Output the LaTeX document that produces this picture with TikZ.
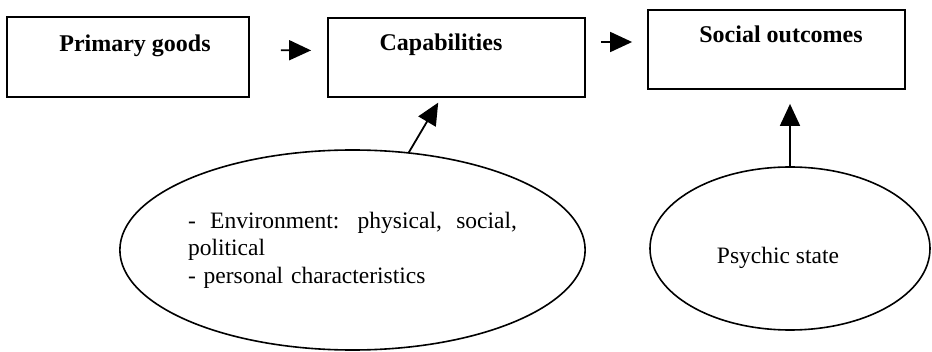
\documentclass[tikz,border=0pt]{standalone}
\usepackage{fontspec}
\setmainfont{Liberation Serif}
\usetikzlibrary{arrows.meta,shapes.geometric}
\setlength{\parindent}{0pt}

\begin{document}
\begin{tikzpicture}[x=1pt, y=1pt,
    stage/.style={draw, line width=1.8pt, rectangle, inner sep=0pt},
    stagetext/.style={anchor=base, font=\fontsize{24}{28}\selectfont\bfseries},
    factor/.style={draw, line width=1.6pt, ellipse, inner sep=0pt},
    factortext/.style={font=\fontsize{23.5}{27.5}\selectfont},
    link/.style={draw, line width=1.8pt, -{Triangle[length=22pt, width=20pt]}}]
  \useasboundingbox (0, 0) rectangle (932, 351);

  \node[stage, minimum width=242pt, minimum height=80pt]
    (goods) at (128, 294) {};
  \node[stagetext] (goodstext) at (135, 299) {Primary goods};

  \node[stage, minimum width=257pt, minimum height=79pt]
    (capab) at (456.5, 293.5) {};
  \node[stagetext] (capabtext) at (441, 300.3) {Capabilities};

  \node[stage, minimum width=257pt, minimum height=79pt]
    (outcomes) at (776.5, 301.5) {};
  \node[stagetext] (outcomestext) at (781, 308.3) {Social outcomes};

  \node[factor, factortext, minimum width=465pt, minimum height=200pt,
        text width=329pt, align=left]
    (env) at (352.5, 101)
    {- \hfill Environment: \hfill physical, \hfill social,\\political\\- personal characteristics};

  \node[factor, minimum width=280pt, minimum height=163pt]
    (psyche) at (790, 102.5) {};
  \node[factortext, anchor=base] (psychetext) at (778, 87.7) {Psychic state};

  \path ([yshift=7pt]goods.east) edge[link, shorten <=31pt, shorten >=16pt] ([yshift=7pt]capab.west)
        ([yshift=15.5pt]capab.east) edge[link, shorten <=15pt, shorten >=15pt] ([yshift=7.5pt]outcomes.west)
        (env.60) edge[link, shorten >=5.5pt] ([xshift=-15.5pt]capab.south)
        (psyche.north) edge[link, shorten >=14pt] (psyche.north |- outcomes.south);

\end{tikzpicture}
\end{document}
